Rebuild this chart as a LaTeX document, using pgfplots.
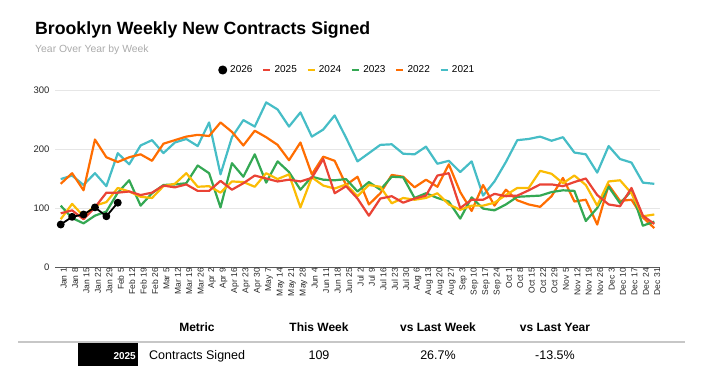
\documentclass[border=0pt]{standalone}
\usepackage{fontspec}
\setmainfont{Liberation Sans}
\usepackage{pgfplots}
\pgfplotsset{compat=1.18}
\usepackage{pgfplotstable}
\definecolor{c26}{HTML}{000000}
\definecolor{c25}{HTML}{EA4335}
\definecolor{c24}{HTML}{FBBC04}
\definecolor{c23}{HTML}{34A853}
\definecolor{c22}{HTML}{FF6D01}
\definecolor{c21}{HTML}{46BDC6}
\definecolor{gridc}{HTML}{E6E6E6}

\pgfplotstableread{
i  r    y    g    o    t
0  91   81   104  141  149
1  96   107  83   159  155
2  81   86   74   130  139
3  101  104  87   216  159
4  126  110  94   186  137
5  126  134  126  178  193
6  128  128  147  186  174
7  122  119  104  191  206
8  126  117  125  180  215
9  138  137  139  209  193
10 135  141  140  215  211
11 140  159  142  221  217
12 129  136  172  224  205
13 129  137  159  222  245
14 146  126  101  245  157
15 131  145  176  229  220
16 142  144  153  206  249
17 155  136  191  231  238
18 150  159  143  220  279
19 145  149  179  207  267
20 148  157  161  181  238
21 145  101  131  211  262
22 151  152  153  157  221
23 183  138  148  187  233
24 125  133  147  180  257
25 137  140  149  139  219
26 116  120  128  153  179
27 87   139  144  106  193
28 116  136  131  125  207
29 120  108  153  156  208
30 109  117  152  153  192
31 116  114  117  135  191
32 121  117  125  148  204
33 155  125  117  136  175
34 159  106  111  174  180
35 100  97   82   127  161
36 114  104  118  95   179
37 114  104  99   139  121
38 124  109  96   104  145
39 120  122  106  131  178
40 121  134  119  113  215
41 130  134  120  106  217
42 140  163  121  102  221
43 140  158  127  120  214
44 137  142  130  151  220
45 144  155  129  111  194
46 150  139  78   114  191
47 122  104  100  72   160
48 106  145  136  139  205
49 103  147  108  112  183
50 134  125  129  114  177
51 87   86   70   84   143
52 73   89   77   66   141
}\weekly

\pgfplotstableread{
i  v
0  72
1  85
2  89
3  101
4  86
5  109
}\cur

\begin{document}
\begin{tikzpicture}[x=1pt,y=1pt]
\path[use as bounding box] (0,0) rectangle (703,384);
\node[anchor=base west, font=\bfseries\fontsize{17.7}{20}\selectfont, inner sep=0pt] at (35,350) {Brooklyn Weekly New Contracts Signed};
\node[anchor=base west, font=\fontsize{10.4}{12}\selectfont, text=black!33, inner sep=0pt] at (35,332) {Year Over Year by Week};

\begin{axis}[
  at={(55pt,117pt)}, anchor=south west,
  width=605pt, height=177pt, scale only axis,
  xmin=-0.5, xmax=52.5, ymin=0, ymax=300,
  axis lines*=left,
  y axis line style={draw=none},
  x axis line style={draw=black!65, line width=0.9pt},
  major tick length=0pt,
  ytick={0,100,200,300},
  ymajorgrids, grid style={draw=gridc, line width=0.9pt},
  xtick={0,...,52},
  xticklabels={Jan 1,Jan 8,Jan 15,Jan 22,Jan 29,Feb 5,Feb 12,Feb 19,Feb 26,Mar 5,Mar 12,Mar 19,Mar 26,Apr 2,Apr 9,Apr 16,Apr 23,Apr 30,May 7,May 14,May 21,May 28,Jun 4,Jun 11,Jun 18,Jun 25,Jul 2,Jul 9,Jul 16,Jul 23,Jul 30,Aug 6,Aug 13,Aug 20,Aug 27,Sep 3,Sep 10,Sep 17,Sep 24,Oct 1,Oct 8,Oct 15,Oct 22,Oct 29,Nov 5,Nov 12,Nov 19,Nov 26,Dec 3,Dec 10,Dec 17,Dec 24,Dec 31},
  x tick label style={rotate=90, anchor=east, font=\fontsize{8.5}{9}\selectfont, text=black!85, inner sep=1pt, xshift=0pt, yshift=-3pt},
  y tick label style={font=\fontsize{9.5}{10}\selectfont, text=black!85, xshift=-2pt},
  /pgf/number format/assume math mode=true,
  legend columns=6,
  reverse legend,
  legend style={at={(0.483,1.113)}, anchor=center, draw=none, fill=none,
    font=\fontsize{10}{12}\selectfont, inner sep=0pt,
    /tikz/every even column/.append style={column sep=7.5pt},
    /tikz/every odd column/.append style={column sep=1pt}},
  legend cell align=left,
  legend image code/.code={\draw[#1, line width=2.6pt, mark=none] (0pt,0pt) -- (7pt,0pt);},
  every axis plot/.append style={line width=2.2pt, line join=round},
]
\addplot[c21, mark=none] table[x=i, y=t] {\weekly};
\addlegendentry{2021}
\addplot[c22, mark=none] table[x=i, y=o] {\weekly};
\addlegendentry{2022}
\addplot[c23, mark=none] table[x=i, y=g] {\weekly};
\addlegendentry{2023}
\addplot[c24, mark=none] table[x=i, y=y] {\weekly};
\addlegendentry{2024}
\addplot[c25, mark=none] table[x=i, y=r] {\weekly};
\addlegendentry{2025}
\addplot[black, line width=1.8pt, mark=*, mark size=3pt, mark options={solid, fill=black},
  legend image code/.code={\fill[black] (3.5pt,0pt) circle (3.6pt);}] table[x=i, y=v] {\cur};
\addlegendentry{2026}
\end{axis}

% summary table
\draw[draw=black!22, line width=2pt] (18,42) -- (685,42);
\fill[black] (78,18) rectangle (138,41);
\node[anchor=base east, font=\bfseries\fontsize{10}{12}\selectfont, text=white, inner sep=0pt] at (136,25) {2025};
\begin{scope}[every node/.style={inner sep=0pt, anchor=base}]
\node[font=\bfseries\fontsize{12}{14}\selectfont] at (197,53) {Metric};
\node[font=\bfseries\fontsize{12}{14}\selectfont] at (319,53) {This Week};
\node[font=\bfseries\fontsize{12}{14}\selectfont] at (438,53) {vs Last Week};
\node[font=\bfseries\fontsize{12}{14}\selectfont] at (555,53) {vs Last Year};
\node[anchor=base west, font=\fontsize{12.5}{14}\selectfont] at (149,24.5) {Contracts Signed};
\node[font=\fontsize{12.5}{14}\selectfont] at (319,24.5) {109};
\node[font=\fontsize{12.5}{14}\selectfont] at (438,24.5) {26.7\%};
\node[font=\fontsize{12.5}{14}\selectfont] at (555,24.5) {-13.5\%};
\end{scope}
\end{tikzpicture}
\end{document}
